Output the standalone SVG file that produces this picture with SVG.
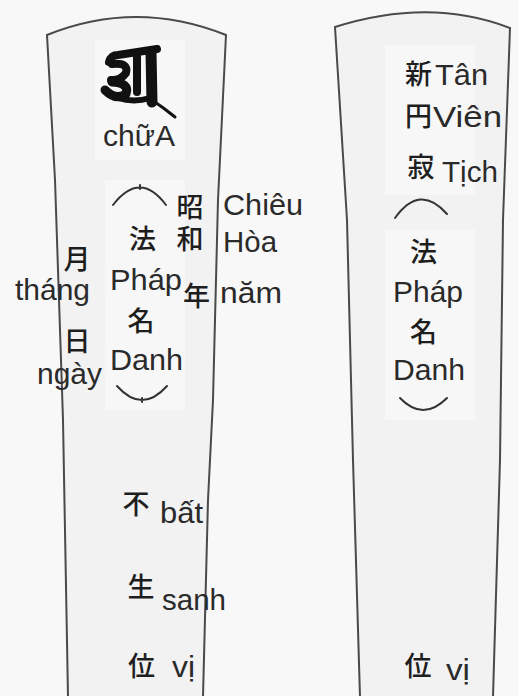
<svg xmlns="http://www.w3.org/2000/svg" width="518" height="696" viewBox="0 0 518 696">
<style>
.tab{fill:#f2f2f2;stroke:#4a4a4a;stroke-width:2}
.patch{fill:#f7f7f7}
.vn{font-family:"Liberation Sans",Arial,sans-serif;font-size:29px;fill:#2a2a2a}
.cjk{font-family:"Noto Sans CJK JP","Noto Sans CJK SC",sans-serif;font-size:27px;font-weight:500;fill:#1e1e1e;text-anchor:middle}
.vert{writing-mode:vertical-rl;text-anchor:start}
.br{fill:none;stroke:#333;stroke-width:2;stroke-linecap:round}
.ink{fill:none;stroke:#111;stroke-linecap:round;stroke-linejoin:round}
</style>
<rect width="518" height="696" fill="#f8f8f8"/>

<g id="tablet-left">
<path class="tab" d="M47,35 Q136,-1 226,35 L218,200 L213,400 L208,500 L203,697 L68,697 L63,420 L55,180 Z"/>
<rect class="patch" x="95" y="40" width="90" height="120"/>
<rect class="patch" x="105" y="180" width="80" height="230"/>
<g id="siddham-a" class="ink">
<path d="M109,62 Q111,55 118,55 L157,49" stroke-width="8"/>
<path d="M112,64 Q129,62 126,73 Q120,81 111,80" stroke-width="8"/>
<path d="M112,82 Q130,83 126,94 Q116,101 105,90" stroke-width="9"/>
<path d="M137,57 L137,92" stroke-width="8"/>
<path d="M118,98 Q134,103 150,98" stroke-width="6"/>
<path d="M151,52 L152,102" stroke-width="11"/>
<path d="M152,100 Q164,108 175,117" stroke-width="3"/>
</g>
<text class="vn" x="103" y="146" font-size="26" textLength="72" lengthAdjust="spacingAndGlyphs">chữA</text>
<path class="br" d="M113,205 Q140,170 166,205 M140,185 L140,189"/>
<text class="cjk vert" x="190" y="193" letter-spacing="5">昭和</text>
<text class="vn" x="223" y="215" textLength="80" lengthAdjust="spacingAndGlyphs">Chiêu</text>
<text class="cjk" x="142.5" y="249">法</text>
<text class="vn" x="223" y="252" textLength="54" lengthAdjust="spacingAndGlyphs">Hòa</text>
<text class="cjk" x="77" y="269" font-size="25">月</text>
<text class="vn" x="15" y="300" font-size="26" textLength="75" lengthAdjust="spacingAndGlyphs">tháng</text>
<text class="vn" x="110" y="290" textLength="72" lengthAdjust="spacingAndGlyphs">Pháp</text>
<text class="cjk" x="196.5" y="306">年</text>
<text class="vn" x="220" y="303" textLength="62" lengthAdjust="spacingAndGlyphs">năm</text>
<text class="cjk" x="141" y="331">名</text>
<text class="cjk" x="77" y="351">日</text>
<text class="vn" x="110" y="370" textLength="73" lengthAdjust="spacingAndGlyphs">Danh</text>
<text class="vn" x="37" y="384" font-size="27" textLength="65" lengthAdjust="spacingAndGlyphs">ngày</text>
<path class="br" d="M117,386 Q142,414 167,386 M142,398 L142,402"/>
<text class="cjk" x="136" y="514">不</text>
<text class="vn" x="160" y="523" textLength="43" lengthAdjust="spacingAndGlyphs">bất</text>
<text class="cjk" x="141" y="597">生</text>
<text class="vn" x="162" y="610" textLength="64" lengthAdjust="spacingAndGlyphs">sanh</text>
<text class="cjk" x="141.5" y="676">位</text>
<text class="vn" x="172" y="677" textLength="23" lengthAdjust="spacingAndGlyphs">vị</text>
</g>

<g id="tablet-right">
<path class="tab" d="M335,27 Q430,-3 510,28 L503,220 L500,460 L493,697 L360,697 L353,460 L347,220 Z"/>
<rect class="patch" x="385" y="45" width="90" height="150"/>
<rect class="patch" x="385" y="230" width="90" height="190"/>
<text class="cjk" x="418.5" y="84">新</text>
<text class="cjk" x="418.5" y="126">円</text>
<text class="cjk" x="421" y="177">寂</text>
<text class="vn" x="435" y="85" textLength="53" lengthAdjust="spacingAndGlyphs">Tân</text>
<text class="vn" x="433" y="127" textLength="69" lengthAdjust="spacingAndGlyphs">Viên</text>
<text class="vn" x="442" y="182" textLength="56" lengthAdjust="spacingAndGlyphs">Tịch</text>
<path class="br" d="M395,218 Q420,183 447,214"/>
<text class="cjk" x="423.5" y="262">法</text>
<text class="vn" x="393" y="302" textLength="70" lengthAdjust="spacingAndGlyphs">Pháp</text>
<text class="cjk" x="423.5" y="342">名</text>
<text class="vn" x="393" y="380" textLength="72" lengthAdjust="spacingAndGlyphs">Danh</text>
<path class="br" d="M400,398 Q423,422 447,398"/>
<text class="cjk" x="418" y="676">位</text>
<text class="vn" x="446" y="680" textLength="24" lengthAdjust="spacingAndGlyphs">vị</text>
</g>
</svg>
